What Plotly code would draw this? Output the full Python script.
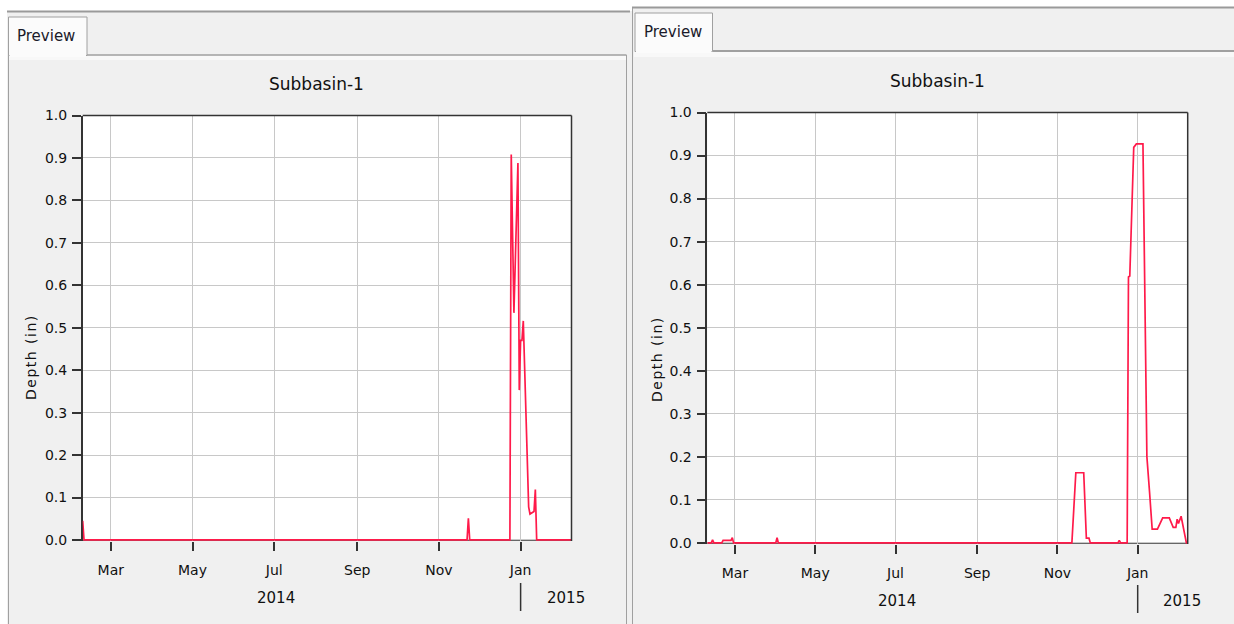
import plotly.graph_objects as go

# ---------------- data ----------------
chart_title = "Subbasin-1"
y_axis_title = "Depth (in)"
tab_label = "Preview"

month_ticks = ["2014-03-01", "2014-05-01", "2014-07-01", "2014-09-01", "2014-11-01", "2015-01-01"]
month_labels = ["Mar", "May", "Jul", "Sep", "Nov", "Jan"]
year_labels = ["2014", "2015"]
year_label_dates = ["2014-07-02", "2015-02-04"]
year_break = "2015-01-01"

y_ticks = [0.0, 0.1, 0.2, 0.3, 0.4, 0.5, 0.6, 0.7, 0.8, 0.9, 1.0]
y_labels = ["0.0", "0.1", "0.2", "0.3", "0.4", "0.5", "0.6", "0.7", "0.8", "0.9", "1.0"]

x_start = "2014-02-08"
x_end = "2015-02-08"

# left chart
left_dates = ["2014-02-08", "2014-02-09", "2014-11-22", "2014-11-23", "2014-11-24",
              "2014-12-24", "2014-12-25", "2014-12-27", "2014-12-30", "2014-12-31",
              "2015-01-01", "2015-01-02", "2015-01-03", "2015-01-06", "2015-01-07",
              "2015-01-08", "2015-01-11", "2015-01-12", "2015-01-13", "2015-02-08"]
left_depth = [0.045, 0.0, 0.0, 0.051, 0.0,
              0.0, 0.908, 0.535, 0.888, 0.353,
              0.47, 0.47, 0.516, 0.149, 0.078,
              0.061, 0.067, 0.119, 0.0, 0.0]

# right chart
right_dates = ["2014-02-08", "2014-02-11", "2014-02-12", "2014-02-13", "2014-02-19",
               "2014-02-20", "2014-02-26", "2014-02-27", "2014-02-28", "2014-04-01",
               "2014-04-02", "2014-04-03", "2014-11-12", "2014-11-13", "2014-11-15",
               "2014-11-21", "2014-11-23", "2014-11-25", "2014-11-26", "2014-12-17",
               "2014-12-18", "2014-12-19", "2014-12-24", "2014-12-25", "2014-12-26",
               "2014-12-29", "2014-12-31", "2015-01-05", "2015-01-08", "2015-01-10",
               "2015-01-12", "2015-01-16", "2015-01-20", "2015-01-25", "2015-01-28",
               "2015-01-30", "2015-01-31", "2015-02-01", "2015-02-03", "2015-02-07",
               "2015-02-08"]
right_depth = [0.0, 0.0, 0.007, 0.0, 0.0,
               0.006, 0.006, 0.012, 0.0, 0.0,
               0.012, 0.0, 0.0, 0.05, 0.163,
               0.163, 0.011, 0.011, 0.0, 0.0,
               0.006, 0.0, 0.0, 0.618, 0.62,
               0.919, 0.927, 0.927, 0.2, 0.119,
               0.032, 0.032, 0.058, 0.058, 0.036,
               0.036, 0.055, 0.045, 0.062, 0.0,
               0.0]

# ---------------- styling ----------------
W, H = 1234, 624
RED = "#ff1a4a"
FRAME = "#333333"
GRID = "#c8c8c8"
PANEL = "#f0f0f0"
BORDER = "#a0a0a0"
FONT = "DejaVu Sans"
TXT = "#111111"


def px(x):
    return x / W


def py(y):
    return 1 - y / H


# plot rectangles in pixels: (left, top, right, bottom)
L_BOX = (82.7, 115.5, 571.5, 541.0)
R_BOX = (707.3, 112.5, 1187.7, 544.0)

fig = go.Figure()
fig.add_trace(go.Scatter(x=left_dates, y=left_depth, mode="lines",
                         line=dict(color=RED, width=1.7), xaxis="x", yaxis="y",
                         hoverinfo="skip", showlegend=False))
fig.add_trace(go.Scatter(x=right_dates, y=right_depth, mode="lines",
                         line=dict(color=RED, width=1.7), xaxis="x2", yaxis="y2",
                         hoverinfo="skip", showlegend=False))


def xaxis_cfg(box, anchor):
    return dict(type="date", range=[x_start, x_end], anchor=anchor,
                domain=[px(box[0]), px(box[2])], automargin=False,
                tickmode="array", tickvals=month_ticks, ticktext=month_labels,
                ticks="outside", ticklen=9, tickwidth=1.5, tickcolor=FRAME,
                showgrid=True, gridcolor=GRID, gridwidth=1,
                showline=False, zeroline=False,
                tickfont=dict(family=FONT, size=14, color=TXT),
                ticklabelstandoff=7, layer="below traces", fixedrange=True)


def yaxis_cfg(box, anchor):
    return dict(range=[-0.0025, 1.0], anchor=anchor,
                domain=[py(box[3]), py(box[1])], automargin=False,
                tickmode="array", tickvals=y_ticks, ticktext=y_labels,
                ticks="outside", ticklen=9, tickwidth=1.5, tickcolor=FRAME,
                showgrid=True, gridcolor=GRID, gridwidth=1,
                showline=True, linecolor=FRAME, linewidth=1.5,
                zeroline=False,
                tickfont=dict(family=FONT, size=14, color=TXT),
                ticklabelstandoff=2, layer="below traces", fixedrange=True)


def prect(x0, y0, x1, y1, fill, line=None):
    return dict(type="rect", xref="paper", yref="paper", layer="below",
                x0=px(x0), x1=px(x1), y0=py(y1), y1=py(y0),
                fillcolor=fill, line=line if line else dict(width=0))


def pline(x0, y0, x1, y1, color, width):
    return dict(type="line", xref="paper", yref="paper", layer="below",
                x0=px(x0), x1=px(x1), y0=py(y0), y1=py(y1),
                line=dict(color=color, width=width))


shapes = []
# panel backgrounds
shapes.append(prect(7, 11, 1234, 624, PANEL))
shapes.append(prect(632, 7, 1234, 11, PANEL))
# light bands under content borders
shapes.append(prect(9, 55.5, 626, 60, "#f8f8f8"))
shapes.append(prect(634, 52, 1234, 57, "#f8f8f8"))
# top window lines
shapes.append(pline(7, 11.5, 630, 11.5, "#9a9a9a", 2))
shapes.append(pline(632, 7.5, 1234, 7.5, "#9a9a9a", 2))
# left panel content borders
shapes.append(pline(8.5, 624, 8.5, 17, BORDER, 1))
shapes.append(pline(87, 55, 626.5, 55, BORDER, 1.5))
shapes.append(pline(626.5, 624, 626.5, 55, BORDER, 1))
# right panel content borders
shapes.append(pline(632.5, 624, 632.5, 8, BORDER, 1))
shapes.append(pline(712.5, 51, 1234, 51, BORDER, 2))
# tabs
shapes.append(prect(8.5, 17, 87, 55.5, "#fbfbfb", dict(color=BORDER, width=1)))
shapes.append(prect(9.5, 54, 86, 57, "#fbfbfb"))
shapes.append(prect(635, 13, 712.5, 51.5, "#fbfbfb", dict(color=BORDER, width=1)))
shapes.append(prect(636, 50, 711.5, 53, "#fbfbfb"))
# white plot areas
for box in (L_BOX, R_BOX):
    shapes.append(prect(box[0], box[1], box[2], box[3], "white"))

# frames
for xa, ya in (("x", "y"), ("x2", "y2")):
    shapes.append(dict(type="line", xref=xa + " domain", yref=ya + " domain", layer="above",
                       x0=0, x1=1, y0=1, y1=1, line=dict(color=FRAME, width=1.5)))
    shapes.append(dict(type="line", xref=xa + " domain", yref=ya + " domain", layer="above",
                       x0=1, x1=1, y0=0, y1=1, line=dict(color=FRAME, width=1.5)))
    shapes.append(dict(type="line", xref=xa + " domain", yref=ya, layer="below",
                       x0=0, x1=1, y0=0, y1=0, line=dict(color=FRAME, width=1.5)))
    # year separator
    shapes.append(dict(type="line", xref=xa, yref="paper", layer="above",
                       x0=year_break, x1=year_break,
                       y0=py(611 if xa == "x" else 613), y1=py(583 if xa == "x" else 585),
                       line=dict(color=FRAME, width=1.5)))

annotations = []
# titles
for cx, cy in ((316.5, 84), (937.5, 81)):
    annotations.append(dict(text=chart_title, xref="paper", yref="paper",
                            x=px(cx), y=py(cy), xanchor="center", yanchor="middle",
                            showarrow=False, font=dict(family=FONT, size=17, color=TXT)))
# tab labels
for cx, cy in ((45.5, 36), (672.5, 32)):
    annotations.append(dict(text=tab_label, xref="paper", yref="paper",
                            x=px(cx), y=py(cy), xanchor="center", yanchor="middle",
                            showarrow=False, font=dict(family=FONT, size=15, color="#1a1a2a")))
# y axis titles
for cx, cy in ((31, 357), (657, 359)):
    annotations.append(dict(text='<span style="letter-spacing:1.5px">' + y_axis_title + '</span>',
                            xref="paper", yref="paper", textangle=-90,
                            x=px(cx), y=py(cy), xanchor="center", yanchor="middle",
                            showarrow=False, font=dict(family=FONT, size=14, color=TXT)))
# year labels
for xa, cy in (("x", 598), ("x2", 601)):
    for lbl, d in zip(year_labels, year_label_dates):
        annotations.append(dict(text=lbl, xref=xa, yref="paper", x=d, y=py(cy),
                                xanchor="center", yanchor="middle", showarrow=False,
                                font=dict(family=FONT, size=15, color=TXT)))

fig.update_layout(
    width=W, height=H, autosize=False,
    margin=dict(l=0, r=0, t=0, b=0, pad=0, autoexpand=False),
    paper_bgcolor="white", plot_bgcolor="white",
    xaxis=xaxis_cfg(L_BOX, "y"), yaxis=yaxis_cfg(L_BOX, "x"),
    xaxis2=xaxis_cfg(R_BOX, "y2"), yaxis2=yaxis_cfg(R_BOX, "x2"),
    shapes=shapes, annotations=annotations, showlegend=False,
)

pin_js = (
    "document.documentElement.style.margin='0';"
    "document.documentElement.style.overflow='hidden';"
    "document.body.style.margin='0';document.body.style.padding='0';"
    "document.body.style.overflow='hidden';"
    "var gd=document.getElementById('{plot_id}');"
    "gd.style.position='fixed';gd.style.left='0px';gd.style.top='0px';"
)
fig.write_html("out.html", config=dict(displayModeBar=False, responsive=False),
               post_script=pin_js)
